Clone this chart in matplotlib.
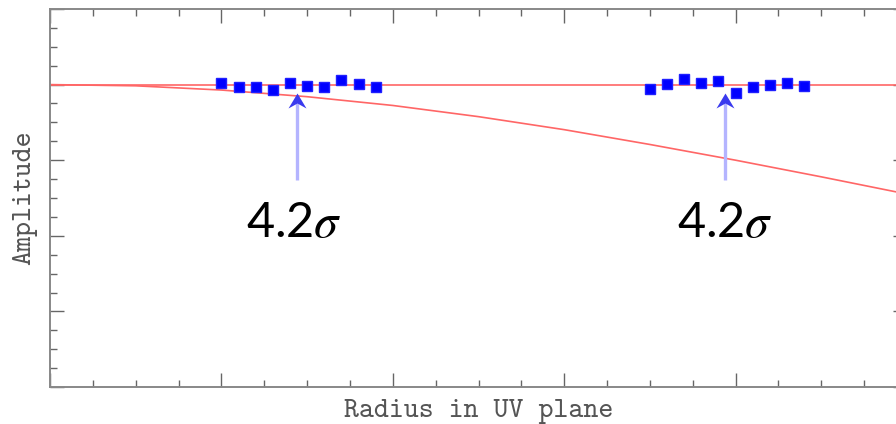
import matplotlib
matplotlib.use("Agg")
import matplotlib.pyplot as plt
from matplotlib.path import Path
from matplotlib.ticker import MultipleLocator

# visibility samples: radius in the uv plane and normalised amplitude
r_inner = [1.0, 1.1, 1.2, 1.3, 1.4, 1.5, 1.6, 1.7, 1.8, 1.9]
amp_inner = [1.006, 0.993, 0.991, 0.982, 1.006, 0.995, 0.991, 1.015, 1.001, 0.993]
r_outer = [3.5, 3.6, 3.7, 3.8, 3.9, 4.0, 4.1, 4.2, 4.3, 4.4]
amp_outer = [0.985, 1.002, 1.019, 1.006, 1.013, 0.973, 0.993, 0.999, 1.006, 0.995]

# point-source model (flat) and resolved-source model (falling off)
point_level = 1.0
r_model = [0.0, 0.5, 1.0, 1.5, 2.0, 2.5, 3.0, 3.5, 4.0, 4.5, 5.0]
amp_model = [1.000, 0.996, 0.982, 0.960, 0.931, 0.894, 0.851, 0.802, 0.750, 0.695, 0.638]

# arrows marking the significance of the difference
arrow_r = [1.44, 3.94]
arrow_tip = [0.972, 0.972]
arrow_base = 0.685
label_r = [1.42, 3.94]
label_y = 0.496
labels = ["4.2$\\sigma$", "4.2$\\sigma$"]

plt.rcParams["mathtext.fontset"] = "stix"

fig = plt.figure(figsize=(8.96, 4.24), dpi=100)
ax = fig.add_axes([50 / 896, 37 / 424, 857 / 896, 378 / 424])

ax.axhline(point_level, color="#ff6666", lw=1.2, zorder=2)
ax.plot(r_model, amp_model, color="#ff6666", lw=1.2, zorder=2)

ax.plot(r_inner, amp_inner, "s", color="#0000ff", ms=7.2, mec="#2020ff", zorder=4)
ax.plot(r_outer, amp_outer, "s", color="#0000ff", ms=7.2, mec="#2020ff", zorder=4)

# notched arrow head, tip sitting at the marker origin
head = Path([(0, 0), (-9, -15), (0, -10), (9, -15), (0, 0)],
            [Path.MOVETO, Path.LINETO, Path.LINETO, Path.LINETO, Path.CLOSEPOLY])
for x, tip in zip(arrow_r, arrow_tip):
    ax.plot([x, x], [arrow_base, tip - 0.03], color="#b4b4ff", lw=2.4,
            solid_capstyle="butt", zorder=3)
    ax.plot([x], [tip], marker=head, ms=21.6, color="#3a3aee", mew=0, zorder=5)

for x, s in zip(label_r, labels):
    ax.text(x, label_y, s, ha="center", va="baseline", fontsize=35,
            family="Lato", color="black")

ax.set_xlim(0, 5)
ax.set_ylim(0, 1.25)
ax.xaxis.set_major_locator(MultipleLocator(1.0))
ax.xaxis.set_minor_locator(MultipleLocator(0.25))
ax.yaxis.set_major_locator(MultipleLocator(0.25))
ax.yaxis.set_minor_locator(MultipleLocator(0.0625))
ax.tick_params(which="both", direction="in", top=True, right=True,
               labelbottom=False, labelleft=False, color="#666666", width=1.0)
ax.tick_params(which="major", length=10)
ax.tick_params(which="minor", length=5)
for sp in ax.spines.values():
    sp.set_color("#888888")
    sp.set_linewidth(1.4)

ax.set_xlabel("Radius in UV plane", family="cmtt10", fontsize=20.5,
              color="#555555", labelpad=9)
ax.set_ylabel("Amplitude", family="cmtt10", fontsize=20.5,
              color="#555555", labelpad=9)

fig.savefig("out.png", dpi=100)
